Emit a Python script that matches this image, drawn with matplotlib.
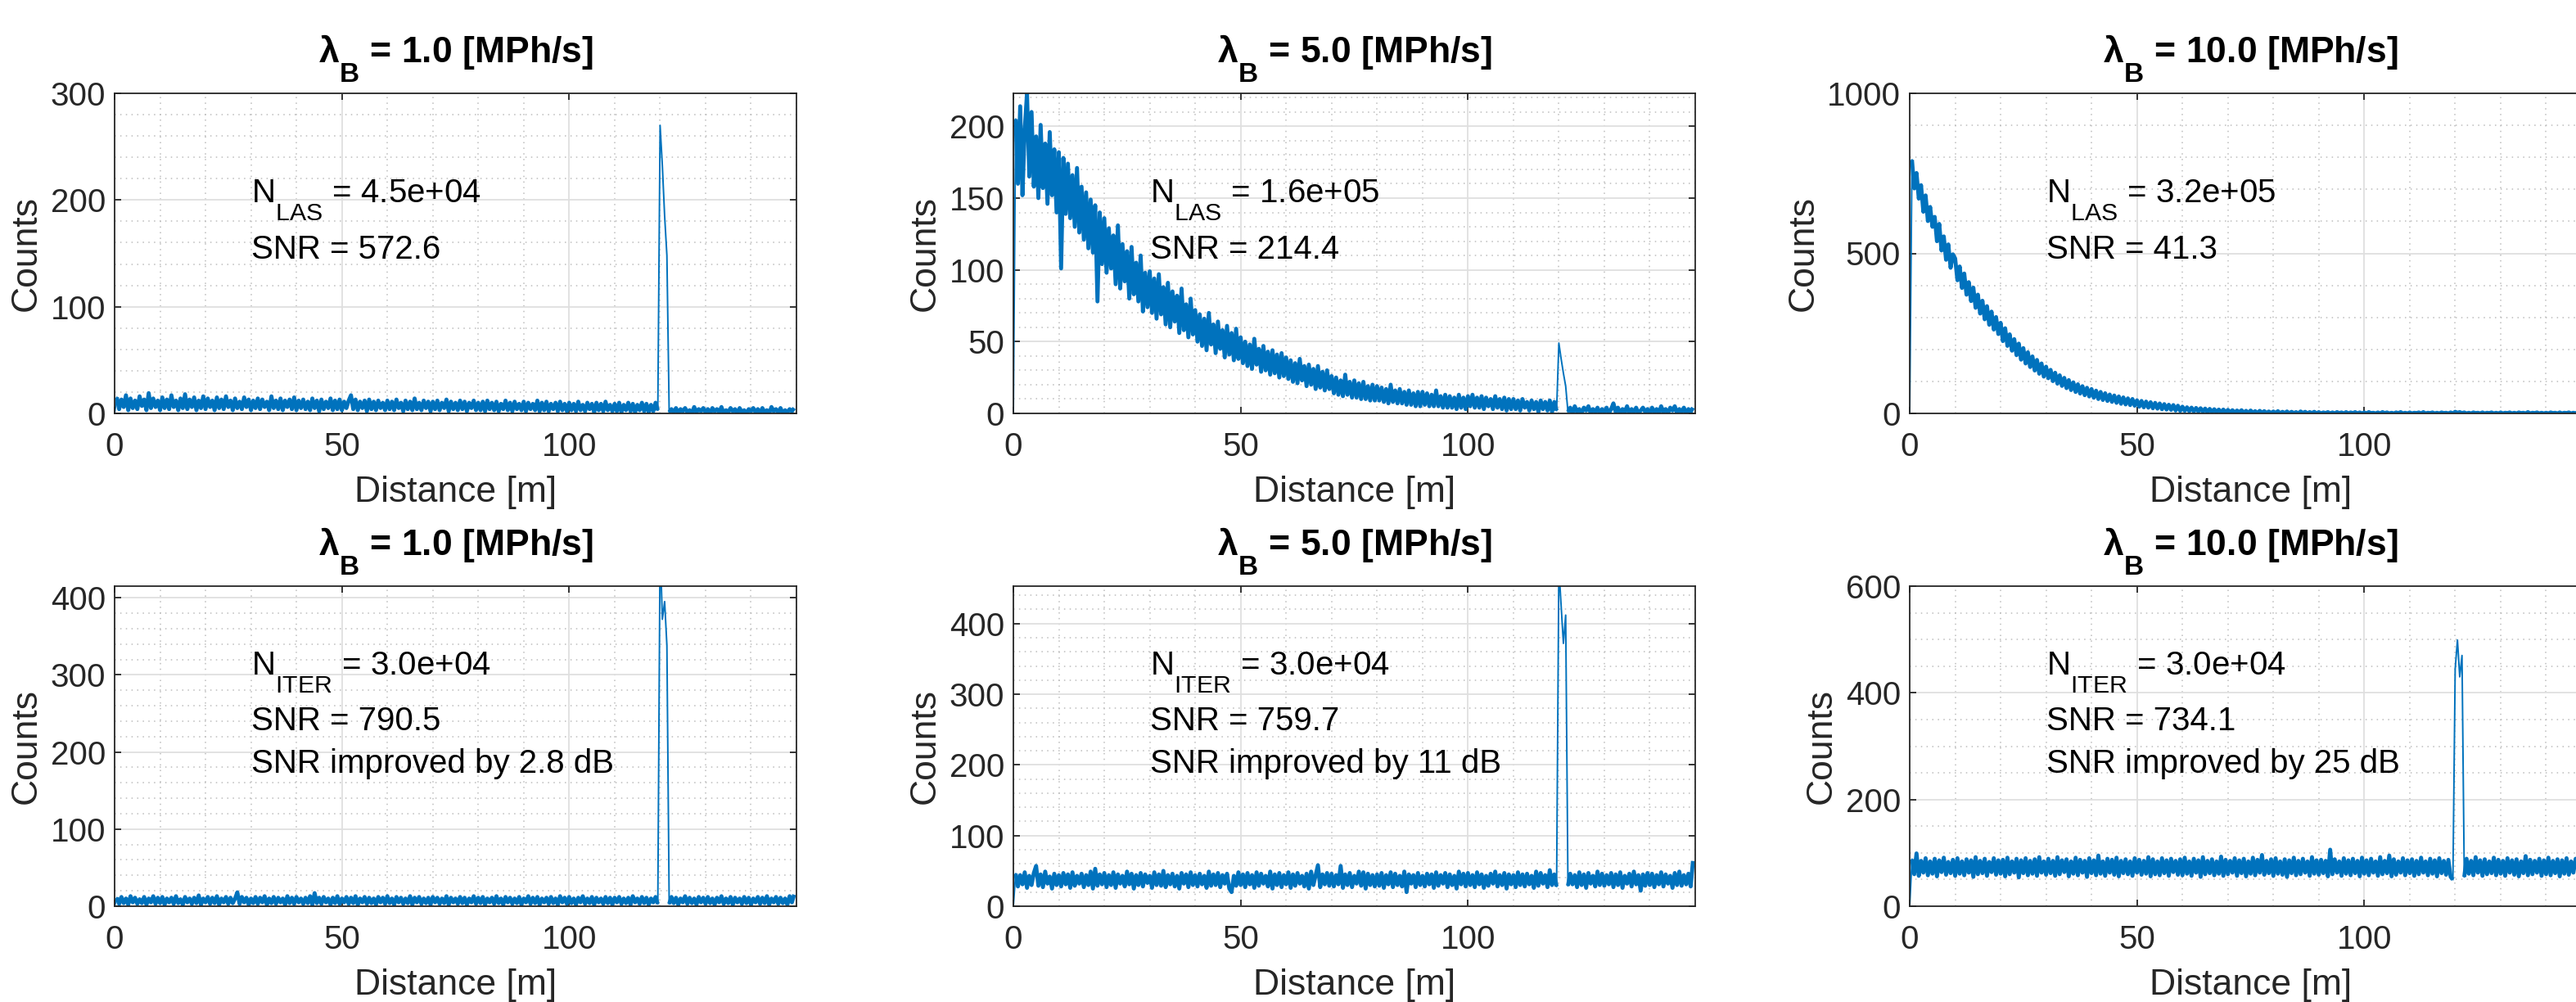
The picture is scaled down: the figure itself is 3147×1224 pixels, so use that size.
import numpy as np
import matplotlib
matplotlib.use("Agg")
import matplotlib.pyplot as plt
from matplotlib.ticker import MultipleLocator, FixedLocator

try:
    import matplotlib._mathtext as _mt
    _mt.FontConstantsBase.sub1 = 1.0
    _mt.SHRINK_FACTOR = 0.75
except Exception:
    pass

plt.rcParams['font.family'] = ['Liberation Sans', 'DejaVu Sans']
plt.rcParams['mathtext.fontset'] = 'custom'
plt.rcParams['mathtext.rm'] = 'Liberation Sans'
plt.rcParams['mathtext.it'] = 'Liberation Sans:italic'
plt.rcParams['mathtext.bf'] = 'Liberation Sans:bold'
plt.rcParams['mathtext.default'] = 'regular'

# ---------------- data ----------------
BIN_WIDTH = 0.5  # m
lambda_b = [1.0, 5.0, 10.0]

counts_las_1 = [
    0, 15, 4, 13, 6, 17, 3, 14, 5, 12, 4, 16, 7, 13, 3, 19, 5, 14, 6, 12,
    3, 15, 5, 13, 4, 17, 6, 12, 3, 14, 5, 18, 4, 13, 6, 15, 3, 12, 5, 16,
    4, 14, 6, 12, 3, 15, 5, 13, 4, 16, 6, 12, 3, 14, 5, 11, 4, 15, 6, 13,
    3, 12, 5, 14, 4, 13, 6, 11, 3, 16, 5, 12, 4, 14, 3, 12, 6, 13, 4, 15,
    3, 12, 5, 13, 4, 11, 3, 14, 5, 12, 2, 13, 4, 11, 5, 14, 3, 12, 4, 13,
    3, 11, 5, 12, 17, 4, 13, 3, 11, 5, 12, 2, 13, 4, 11, 3, 12, 5, 10, 3,
    12, 4, 11, 3, 13, 5, 10, 2, 12, 4, 11, 3, 14, 4, 10, 3, 12, 5, 11, 2,
    11, 4, 12, 3, 10, 5, 13, 2, 11, 4, 10, 3, 12, 4, 11, 2, 10, 5, 12, 3,
    10, 3, 11, 2, 12, 4, 10, 3, 11, 2, 9, 4, 12, 3, 10, 2, 11, 4, 9, 3,
    11, 2, 10, 4, 9, 3, 12, 2, 10, 3, 11, 2, 9, 4, 10, 2, 11, 3, 9, 2,
    10, 3, 9, 2, 11, 3, 8, 2, 10, 4, 9, 1, 10, 3, 9, 2, 11, 3, 8, 2,
    9, 2, 10, 1, 8, 3, 10, 2, 9, 1, 8, 3, 10, 2, 9, 1, 8, 2, 10, 3,
    270, 232, 185, 148, 1, 4, 1, 5, 0, 4, 2, 5, 1, 3, 0, 6, 1, 4, 2, 5,
    1, 4, 0, 5, 2, 4, 1, 6, 0, 3, 1, 5, 2, 4, 0, 5, 1, 3, 0, 4,
    2, 5, 1, 4, 0, 5, 1, 3, 0, 6, 2, 4, 1, 5, 0, 3, 1, 4, 2, 5,
]

counts_las_5 = [
    0, 205, 160, 214, 152, 198, 223, 165, 210, 158, 193, 150, 201, 157, 188, 146, 196, 152, 184, 140,
    182, 101, 178, 139, 174, 136, 166, 130, 171, 126, 158, 121, 154, 115, 149, 112, 145, 78, 140, 104,
    136, 98, 129, 101, 124, 90, 131, 87, 118, 92, 113, 80, 116, 83, 105, 78, 110, 71, 98, 74,
    99, 70, 94, 66, 97, 69, 88, 62, 91, 60, 85, 64, 82, 56, 87, 58, 76, 53, 80, 55,
    72, 50, 69, 47, 66, 44, 70, 48, 62, 42, 64, 45, 58, 39, 61, 41, 56, 37, 59, 38,
    53, 35, 50, 33, 48, 31, 52, 34, 45, 29, 47, 30, 43, 27, 44, 28, 41, 25, 42, 26,
    39, 24, 37, 22, 35, 21, 38, 23, 33, 19, 34, 20, 31, 17, 33, 18, 29, 16, 30, 17,
    26, 14, 25, 13, 23, 12, 27, 13, 22, 11, 23, 11, 21, 10, 22, 10, 19, 9, 20, 9,
    19, 9, 18, 8, 17, 7, 20, 8, 16, 7, 17, 7, 15, 6, 16, 6, 14, 5, 15, 5,
    15, 6, 14, 5, 13, 5, 16, 5, 12, 4, 13, 4, 12, 4, 11, 3, 13, 4, 11, 3,
    12, 5, 13, 4, 11, 4, 12, 3, 11, 5, 10, 3, 12, 4, 10, 3, 11, 2, 10, 3,
    10, 3, 9, 2, 10, 4, 8, 2, 9, 3, 8, 1, 9, 3, 8, 2, 9, 1, 8, 2,
    49, 38, 28, 19, 1, 4, 0, 5, 1, 3, 0, 4, 2, 5, 0, 3, 1, 4, 0, 3,
    1, 4, 0, 3, 7, 1, 4, 0, 3, 1, 5, 0, 3, 1, 4, 0, 2, 4, 1, 3,
    0, 4, 1, 3, 0, 5, 1, 3, 0, 4, 2, 5, 0, 3, 1, 4, 0, 3, 1, 4,
]

counts_las_10 = [
    0, 792, 703, 751, 671, 713, 630, 681, 601, 645, 583, 614, 538, 592, 509, 553, 480, 528, 455, 497,
    484, 416, 459, 392, 437, 371, 410, 351, 393, 330, 371, 312, 352, 294, 335, 277, 318, 262, 301, 248,
    283, 226, 266, 211, 247, 196, 232, 182, 218, 168, 204, 156, 191, 145, 178, 134, 167, 124, 156, 115,
    146, 110, 136, 101, 127, 93, 119, 86, 111, 79, 104, 73, 97, 67, 91, 62, 85, 57, 80, 53,
    76, 49, 71, 45, 67, 42, 63, 39, 59, 36, 56, 33, 53, 30, 50, 28, 47, 26, 45, 24,
    41, 21, 39, 19, 37, 18, 35, 16, 33, 15, 31, 13, 29, 12, 27, 11, 26, 9, 24, 8,
    21, 8, 19, 7, 18, 6, 17, 6, 16, 5, 15, 4, 14, 4, 13, 3, 12, 3, 12, 2,
    11, 3, 10, 2, 9, 3, 10, 2, 8, 1, 9, 2, 7, 1, 8, 2, 7, 1, 6, 1,
    6, 1, 7, 0, 5, 1, 6, 0, 5, 1, 4, 0, 6, 1, 5, 0, 4, 1, 5, 0,
    4, 0, 3, 1, 4, 0, 3, 0, 4, 1, 3, 0, 4, 0, 3, 1, 4, 0, 3, 0,
    3, 0, 4, 1, 2, 0, 3, 0, 4, 1, 3, 0, 2, 0, 3, 1, 4, 0, 2, 0,
    3, 0, 2, 1, 3, 0, 4, 0, 2, 1, 3, 0, 2, 0, 3, 1, 2, 0, 3, 0,
    5, 2, 4, 1, 3, 0, 2, 0, 3, 1, 2, 0, 3, 0, 2, 1, 3, 0, 2, 0,
    3, 0, 2, 1, 3, 0, 2, 0, 3, 1, 2, 0, 4, 0, 2, 1, 3, 0, 2, 0,
    2, 0, 3, 1, 2, 0, 3, 0, 2, 1, 3, 0, 2, 0, 3, 1, 2, 0, 2, 1,
]

counts_iter_1 = [
    0, 11, 3, 12, 4, 10, 2, 13, 5, 11, 3, 9, 4, 12, 2, 10, 5, 13, 3, 11,
    4, 12, 2, 10, 5, 11, 3, 13, 4, 9, 2, 12, 5, 10, 3, 11, 4, 14, 2, 10,
    5, 12, 3, 11, 4, 13, 2, 10, 5, 12, 3, 11, 4, 10, 18, 3, 12, 5, 11, 2,
    10, 4, 12, 3, 11, 5, 13, 2, 10, 4, 12, 3, 11, 5, 10, 2, 13, 4, 11, 3,
    12, 5, 10, 3, 11, 4, 13, 2, 17, 4, 11, 3, 12, 5, 10, 2, 11, 4, 13, 3,
    10, 5, 12, 3, 11, 4, 13, 2, 10, 5, 12, 3, 11, 4, 10, 2, 12, 5, 11, 3,
    13, 4, 10, 2, 12, 5, 11, 3, 10, 4, 13, 2, 11, 5, 12, 3, 10, 4, 11, 2,
    12, 5, 11, 3, 10, 4, 13, 2, 11, 5, 10, 3, 12, 4, 11, 2, 10, 5, 13, 3,
    11, 4, 12, 2, 10, 5, 11, 3, 13, 4, 10, 2, 12, 5, 11, 3, 10, 4, 12, 2,
    10, 5, 13, 3, 11, 4, 12, 2, 10, 5, 11, 3, 12, 4, 10, 2, 13, 5, 11, 3,
    12, 4, 10, 2, 11, 5, 13, 3, 10, 4, 12, 2, 11, 5, 10, 3, 12, 4, 11, 2,
    11, 5, 12, 3, 10, 4, 11, 2, 13, 5, 10, 3, 12, 4, 11, 2, 10, 5, 12, 3,
    470, 372, 395, 338, 3, 12, 4, 11, 2, 10, 5, 13, 3, 11, 4, 10, 2, 12, 5, 11,
    3, 12, 4, 10, 2, 11, 5, 13, 3, 10, 4, 12, 2, 11, 5, 10, 3, 12, 4, 11,
    2, 10, 5, 12, 3, 11, 4, 13, 2, 10, 5, 12, 3, 11, 4, 10, 2, 13, 5, 15,
]

counts_iter_5 = [
    0, 46, 28, 44, 31, 48, 26, 43, 30, 47, 57, 29, 45, 27, 49, 32, 42, 25, 46, 30,
    44, 28, 47, 31, 45, 26, 48, 29, 43, 32, 46, 27, 44, 30, 49, 25, 53, 29, 45, 31,
    47, 27, 44, 30, 48, 26, 45, 32, 43, 28, 49, 31, 46, 25, 44, 30, 47, 28, 45, 33,
    43, 26, 48, 30, 45, 29, 50, 27, 44, 31, 46, 28, 43, 25, 47, 32, 45, 27, 48, 30,
    44, 28, 46, 31, 43, 26, 49, 29, 45, 30, 47, 27, 44, 32, 46, 25, 20, 43, 29, 48,
    30, 45, 27, 47, 31, 44, 26, 48, 29, 46, 32, 43, 28, 49, 25, 45, 30, 47, 27, 44,
    31, 48, 26, 45, 29, 47, 32, 43, 28, 46, 25, 49, 30, 44, 58, 27, 45, 31, 47, 29,
    46, 28, 44, 31, 57, 26, 45, 30, 47, 27, 43, 32, 49, 29, 48, 25, 46, 30, 44, 28,
    45, 29, 47, 26, 44, 31, 48, 27, 46, 30, 43, 28, 49, 20, 45, 32, 44, 27, 47, 30,
    43, 28, 46, 31, 45, 26, 48, 29, 44, 32, 47, 27, 45, 30, 43, 25, 49, 31, 46, 28,
    47, 30, 44, 27, 48, 31, 45, 26, 43, 29, 46, 32, 49, 28, 44, 30, 47, 25, 45, 31,
    44, 27, 48, 30, 45, 28, 46, 31, 43, 26, 49, 29, 47, 32, 44, 27, 51, 30, 45, 28,
    480, 425, 372, 412, 29, 46, 31, 44, 27, 48, 30, 45, 26, 47, 32, 43, 28, 49, 30, 46,
    29, 44, 31, 47, 27, 45, 30, 48, 26, 43, 32, 46, 28, 49, 31, 44, 22, 45, 29, 47,
    30, 46, 27, 44, 31, 48, 28, 45, 32, 43, 26, 47, 30, 49, 29, 44, 31, 46, 28, 64,
]

counts_iter_10 = [
    0, 88, 60, 99, 57, 85, 63, 90, 58, 84, 61, 89, 56, 86, 64, 91, 59, 83, 62, 87,
    57, 90, 61, 84, 58, 88, 63, 86, 55, 92, 60, 85, 62, 89, 57, 83, 64, 90, 59, 86,
    61, 87, 56, 91, 60, 84, 63, 89, 54, 86, 62, 90, 58, 85, 61, 88, 57, 92, 63, 84,
    59, 89, 62, 85, 57, 92, 60, 86, 64, 88, 56, 84, 61, 91, 58, 87, 63, 85, 55, 90,
    62, 86, 58, 95, 61, 84, 57, 89, 63, 87, 59, 91, 56, 85, 62, 88, 60, 84, 57, 90,
    63, 87, 59, 85, 61, 92, 56, 88, 60, 84, 58, 90, 62, 86, 57, 89, 64, 85, 59, 88,
    58, 91, 61, 84, 57, 89, 63, 86, 55, 92, 60, 85, 62, 88, 58, 84, 61, 93, 57, 87,
    60, 85, 63, 90, 57, 86, 62, 89, 56, 84, 61, 91, 58, 87, 63, 96, 59, 85, 62, 88,
    57, 90, 61, 84, 59, 88, 55, 86, 62, 91, 58, 85, 60, 89, 63, 84, 57, 92, 61, 86,
    59, 87, 62, 85, 56, 106, 60, 88, 63, 84, 57, 90, 61, 86, 58, 89, 62, 85, 56, 91,
    61, 86, 58, 89, 63, 84, 57, 92, 60, 85, 62, 95, 56, 88, 59, 84, 63, 90, 58, 86,
    62, 88, 57, 85, 60, 91, 63, 84, 58, 89, 61, 86, 56, 90, 62, 85, 59, 87, 55, 50,
    445, 499, 430, 470, 55, 89, 61, 85, 58, 92, 63, 86, 57, 88, 60, 84, 62, 91, 58, 87,
    61, 85, 57, 90, 63, 86, 59, 88, 56, 84, 62, 94, 58, 87, 60, 85, 63, 89, 57, 86,
    60, 91, 58, 85, 62, 88, 56, 86, 61, 90, 59, 84, 63, 89, 57, 87, 60, 85, 62, 72,
]

n_las = ['4.5e+04', '1.6e+05', '3.2e+05']
snr_las = ['572.6', '214.4', '41.3']
n_iter = ['3.0e+04', '3.0e+04', '3.0e+04']
snr_iter = ['790.5', '759.7', '734.1']
snr_gain = ['2.8', '11', '25']

x_ticks = [0, 50, 100]
x_limit = 150
top_ylim = [300, 223, 1000]
top_ymajor = [100, 50, 500]
top_yminor = [20, 10, 100]
bot_ylim = [415, 453, 600]
bot_ymajor = [100, 100, 200]
bot_yminor = [20, 20, 50]
top_has_peak = [True, True, False]
bot_has_peak = [True, True, True]
PEAK_FIRST, PEAK_LAST = 239, 244   # bins around the 120 m target return

# ---------------- figure ----------------
W, H = 3147, 1224
fig = plt.figure(figsize=(W / 100, H / 100), dpi=100)

LINE_C = '#0072BD'
AX_C = '#262626'
lefts = [140, 1238, 2333]
ax_w = 833
ax_h = 391
rows_bottom = [505, 1107]
LW_BAND = 3.5
LW_PEAK = 1.4


def draw_series(ax, counts, has_peak):
    y = np.array(counts, dtype=float)
    x = np.arange(len(y)) * BIN_WIDTH
    kw = dict(color=LINE_C, lw=LW_BAND, solid_joinstyle='round',
              solid_capstyle='butt')
    if has_peak:
        ax.plot(x[1:PEAK_FIRST + 1], y[1:PEAK_FIRST + 1], **kw)
        ax.plot(x[PEAK_FIRST:PEAK_LAST + 1], y[PEAK_FIRST:PEAK_LAST + 1],
                color=LINE_C, lw=LW_PEAK)
        ax.plot(x[PEAK_LAST:], y[PEAK_LAST:], **kw)
    else:
        ax.plot(x[1:], y[1:], **kw)
    # the thin rise from zero in the first bin
    ax.plot(x[:2], y[:2], color=LINE_C, lw=LW_PEAK)


def style(ax, ymax, ymaj, ymin):
    ax.set_xlim(0, x_limit)
    ax.set_ylim(0, ymax)
    ax.xaxis.set_major_locator(FixedLocator(x_ticks))
    ax.xaxis.set_minor_locator(MultipleLocator(10))
    ax.yaxis.set_major_locator(MultipleLocator(ymaj))
    ax.yaxis.set_minor_locator(MultipleLocator(ymin))
    ax.set_axisbelow(True)
    ax.grid(True, which='major', color='#DFDFDF', lw=1.3, ls='-')
    ax.grid(True, which='minor', color='#BDBDBD', lw=1.1, ls=(0, (1, 3.5)))
    ax.tick_params(which='major', direction='in', top=True, right=True,
                   length=5.5, width=1.3, color=AX_C, labelsize=29,
                   labelcolor=AX_C)
    ax.tick_params(which='minor', length=0, top=True, right=True)
    ax.tick_params(axis='x', pad=16)
    ax.tick_params(axis='y', pad=8)
    for s in ax.spines.values():
        s.set_color(AX_C)
        s.set_linewidth(1.3)
    ax.set_xlabel('Distance [m]', fontsize=32, color=AX_C, labelpad=11.5)
    ax.set_ylabel('Counts', fontsize=32, color=AX_C, labelpad=6)


top_series = [counts_las_1, counts_las_5, counts_las_10]
bot_series = [counts_iter_1, counts_iter_5, counts_iter_10]

for i in range(3):
    # top row
    ax = fig.add_axes([lefts[i] / W, 1 - rows_bottom[0] / H, ax_w / W, ax_h / H])
    draw_series(ax, top_series[i], top_has_peak[i])
    style(ax, top_ylim[i], top_ymajor[i], top_yminor[i])
    ax.set_title(f'$λ_B$ = {lambda_b[i]:.1f} [MPh/s]', fontsize=32,
                 fontweight='bold', pad=27, color='black')
    ax.text(0.2, 0.660, f'$N_{{LAS}}$ = {n_las[i]}', transform=ax.transAxes,
            fontsize=29, va='baseline', ha='left', color='black')
    ax.text(0.2, 0.484, f'SNR = {snr_las[i]}', transform=ax.transAxes,
            fontsize=29, va='baseline', ha='left', color='black')

    # bottom row
    ax = fig.add_axes([lefts[i] / W, 1 - rows_bottom[1] / H, ax_w / W, ax_h / H])
    draw_series(ax, bot_series[i], bot_has_peak[i])
    style(ax, bot_ylim[i], bot_ymajor[i], bot_yminor[i])
    ax.set_title(f'$λ_B$ = {lambda_b[i]:.1f} [MPh/s]', fontsize=32,
                 fontweight='bold', pad=27, color='black')
    ax.text(0.2, 0.725, f'$N_{{ITER}}$ = {n_iter[i]}', transform=ax.transAxes,
            fontsize=29, va='baseline', ha='left', color='black')
    ax.text(0.2, 0.551, f'SNR = {snr_iter[i]}', transform=ax.transAxes,
            fontsize=29, va='baseline', ha='left', color='black')
    ax.text(0.2, 0.418, f'SNR improved by {snr_gain[i]} dB', transform=ax.transAxes,
            fontsize=29, va='baseline', ha='left', color='black')

fig.savefig('out.png', dpi=100)
